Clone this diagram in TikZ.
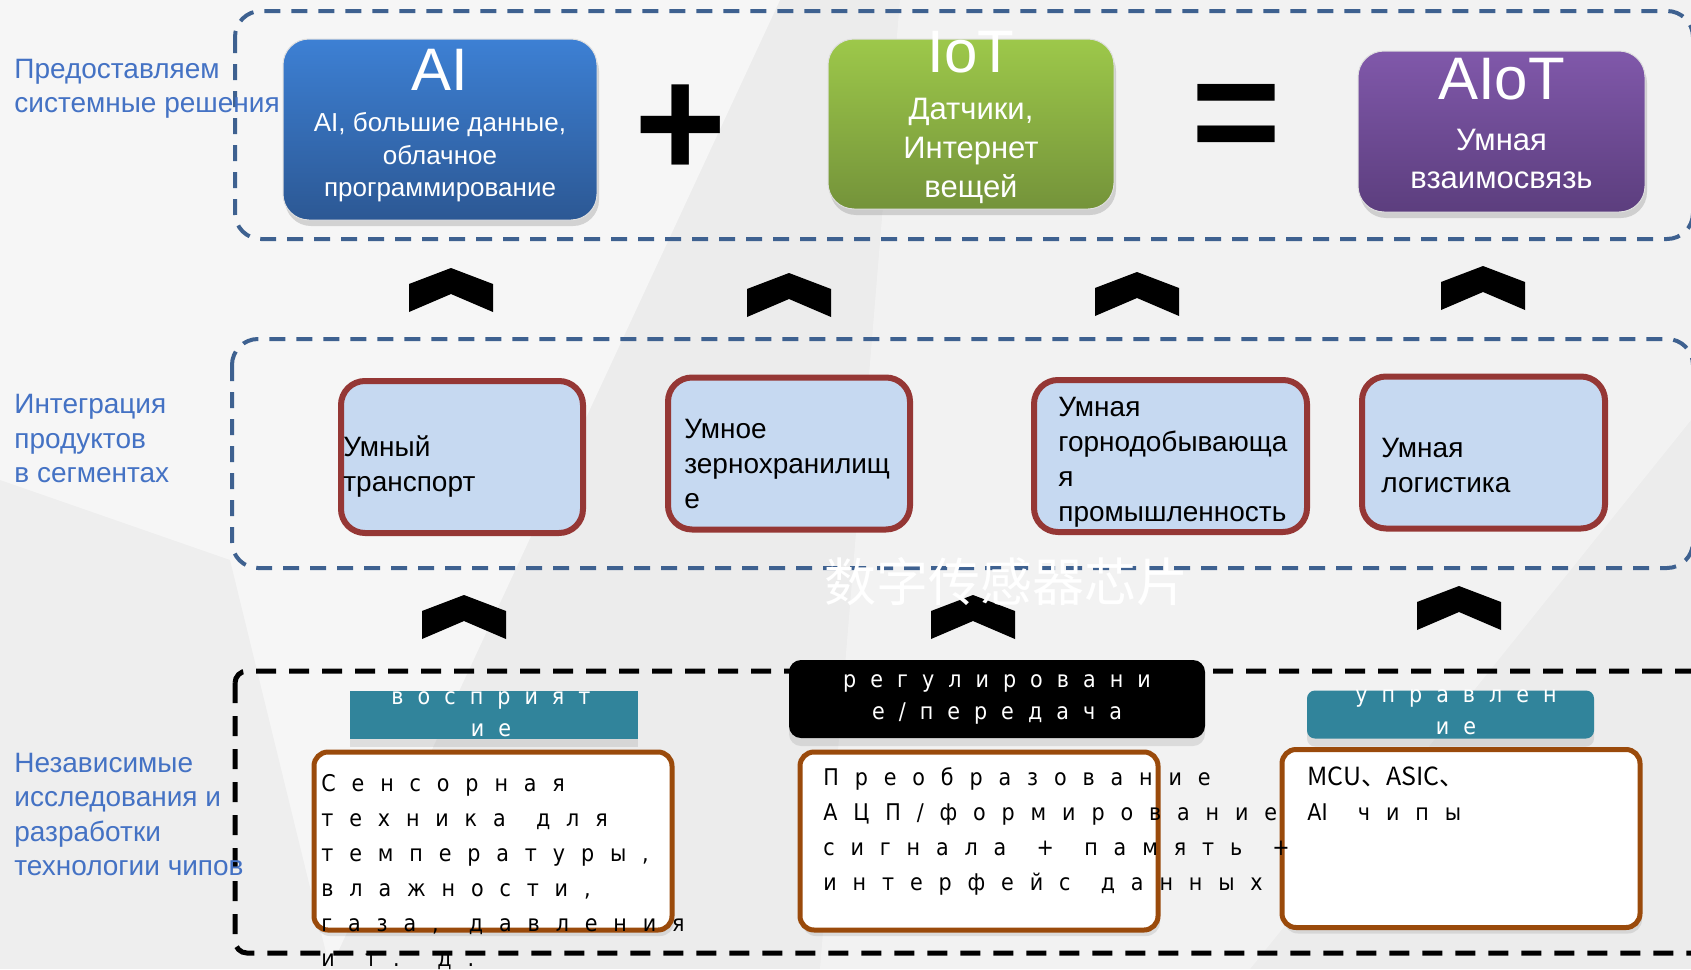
\documentclass[tikz,border=0pt]{standalone}
\usepackage{fontspec}
\setmainfont{Liberation Sans}
\newfontfamily\chipfont[LetterSpace=69,WordSpace=1.35]{DejaVu Sans Condensed}
\newfontfamily\chipplain{DejaVu Sans Condensed}
\newfontfamily\cjkfont{Noto Sans CJK SC}
\usetikzlibrary{shadows}
\definecolor{bgray}{HTML}{ECECEC}
\definecolor{lblue}{HTML}{4472C4}
\definecolor{fblue}{HTML}{3E6190}
\definecolor{aitop}{HTML}{3D80D4}
\definecolor{aibot}{HTML}{2C5894}
\definecolor{iottop}{HTML}{9DC84A}
\definecolor{iotbot}{HTML}{74933A}
\definecolor{aiottop}{HTML}{8058AA}
\definecolor{aiotbot}{HTML}{5C3E7E}
\definecolor{segred}{HTML}{953735}
\definecolor{segfill}{HTML}{C6D9F1}
\definecolor{chipbrown}{HTML}{9A4A0B}
\definecolor{chipteal}{HTML}{31849B}
\tikzset{
  layer/.style={font=\fontsize{14}{17.25}\selectfont,text=lblue,align=left,anchor=west,inner sep=0pt},
  frame/.style={dash pattern=on 8pt off 5.5pt,line width=2pt,draw=fblue,rounded corners=13pt},
  chipframe/.style={dash pattern=on 10pt off 6.5pt,line width=2.5pt,draw=black,rounded corners=6pt},
  tech/.style={rounded corners=13pt,draw=white!75!gray,line width=0.5pt,
    drop shadow={opacity=0.3,shadow xshift=1pt,shadow yshift=-3pt}},
  techtitle/.style={font=\fontsize{30}{36}\selectfont,text=white,inner sep=0pt},
  techsub/.style={text=white,align=center,inner sep=0pt},
  oper/.style={font=\fontsize{79}{80}\selectfont\bfseries,inner sep=0pt},
  seg/.style={fill=segfill,draw=segred,line width=3pt,rounded corners=12pt,minimum height=76pt},
  segtxt/.style={font=\fontsize{14}{17.5}\selectfont,align=left,anchor=west,inner sep=0pt},
  chip/.style={fill=white,draw=chipbrown,line width=2.5pt,rounded corners=7pt,minimum width=179pt,minimum height=89pt,
    drop shadow={opacity=0.2,shadow xshift=1pt,shadow yshift=-3pt}},
  chiptxt/.style={font=\chipfont\fontsize{11.5}{17.5}\selectfont,align=left,anchor=west,inner sep=0pt},
  tag/.style={minimum height=24pt,drop shadow={opacity=0.2,shadow xshift=0pt,shadow yshift=-4pt}},
  tagtxt/.style={font=\chipfont\addfontfeatures{LetterSpace=61}\fontsize{11.5}{16}\selectfont,text=white,align=center,inner sep=0pt},
}
\begin{document}
\begin{tikzpicture}[x=0.5pt,y=-0.5pt]
  \useasboundingbox (0,0) rectangle (1691,969);
  \fill[bgray] (0,0) rectangle (1691,969);
  \fill[white,opacity=0.55] (0,0) -- (780,0) -- (330,969) -- (0,969) -- cycle;
  \fill[white,opacity=0.35] (900,0) -- (1691,0) -- (1691,420) -- (1250,969) -- (820,969) -- cycle;
  \fill[black,opacity=0.03] (0,480) -- (230,560) -- (330,969) -- (0,969) -- cycle;

  % frames
  \draw[frame] (235,11) rectangle (1693,239);
  \draw[frame] (232,339) rectangle (1693,568);
  \draw[chipframe] (235,671) rectangle (1720,953);

  \node[layer] (lsys) at (14,89) {Предоставляем\\системные решения};
  \node[layer] (lseg) at (14,438.5) {Интеграция\\продуктов\\в сегментах};
  \node[layer] (lrnd) at (14,814.5) {Независимые\\исследования и\\разработки\\технологии чипов};

  % top row
  \node[tech,top color=aitop,bottom color=aibot,minimum width=157pt,minimum height=90.5pt] (ai) at (440,129.5) {};
  \node[tech,top color=iottop,bottom color=iotbot,minimum width=143pt,minimum height=85pt] (iot) at (971,124) {};
  \node[tech,top color=aiottop,bottom color=aiotbot,minimum width=143.5pt,minimum height=80.5pt] (aiot) at (1501.5,131.5) {};
  \node[techtitle] (aih) at (440,70) {AI};
  \node[techtitle] (ioth) at (971,52) {IoT};
  \node[techtitle] (aioth) at (1501.5,79) {AIoT};
  \node[techsub,font=\fontsize{13}{16.25}\selectfont] (ait) at (440,157.5) {AI, большие данные,\\облачное\\программирование};
  \node[techsub,font=\fontsize{15.5}{19.5}\selectfont] (iott) at (971,151) {Датчики,\\Интернет\\вещей};
  \node[techsub,font=\fontsize{15.5}{19}\selectfont] (aiott) at (1501.5,159) {Умная\\взаимосвязь};
  \node[oper] (plus) at (681,131) {+};
  \node[oper,font=\fontsize{77}{80}\selectfont\bfseries] (eq) at (1236,124) {=};

  % chevrons
  \foreach \cx/\cy in {451/268,789/273,1137/272,1483/266,464/595,973/595,1459/586}
    \fill (\cx,\cy) -- ++(42,16) -- ++(0,28) -- ++(-42,-18) -- ++(-42,18) -- ++(0,-28) -- cycle;

  % segment row
  \node[seg,minimum width=121pt] (mb1) at (462,457) {};
  \node[seg,minimum width=121pt] (mb2) at (789,453.5) {};
  \node[seg,minimum width=136.5pt] (mb3) at (1170.5,456) {};
  \node[seg,minimum width=121.5pt] (mb4) at (1483.5,452.5) {};
  \node[segtxt] (mt1) at (343,466.5) {Умный\\транспорт};
  \node[segtxt] (mt2) at (684,463.5) {Умное\\зернохранилищ\\е};
  \node[segtxt] (mt3) at (1058,462.5) {Умная\\горнодобывающа\\я\\промышленность};
  \node[segtxt] (mt4) at (1381,465) {Умная\\логистика};

  \node[font=\cjkfont\fontsize{26}{26}\selectfont,text=white] (wm) at (1006,582) {数字传感器芯片};

  % chip row
  \node[tag,fill=chipteal,minimum width=144pt] (perc) at (494,715) {};
  \node[tag,fill=black,rounded corners=6pt,minimum width=208pt,minimum height=39pt] (reg) at (997,699) {};
  \node[tag,fill=chipteal,rounded corners=4pt,minimum width=143.5pt] (ctrl) at (1450.5,714.5) {};
  \node[tagtxt] (perct) at (491,714) {восприят\\ие};
  \node[tagtxt] (regt) at (997,699.5) {регулировани\\е/передача};
  \node[tagtxt] (ctrlt) at (1456,712.5) {управлен\\ие};

  \node[chip] (wb1) at (493,841) {};
  \node[chip] (wb2) at (979,841) {};
  \node[chip] (wb3) at (1461,838.5) {};
  \node[chiptxt] (bt1) at (321,872) {Сенсорная\\техника для\\температуры,\\влажности,\\газа, давления\\и т. д.};
  \node[chiptxt] (bt2) at (823,831.5) {Преобразование\\АЦП/формирование\\сигнала + память +\\интерфейс данных};
  \node[chiptxt] (bt3) at (1307,793.5) {{\cjkfont\fontsize{12.5}{17.5}\selectfont MCU、ASIC、}\\{\chipplain AI} чипы};
\end{tikzpicture}
\end{document}
